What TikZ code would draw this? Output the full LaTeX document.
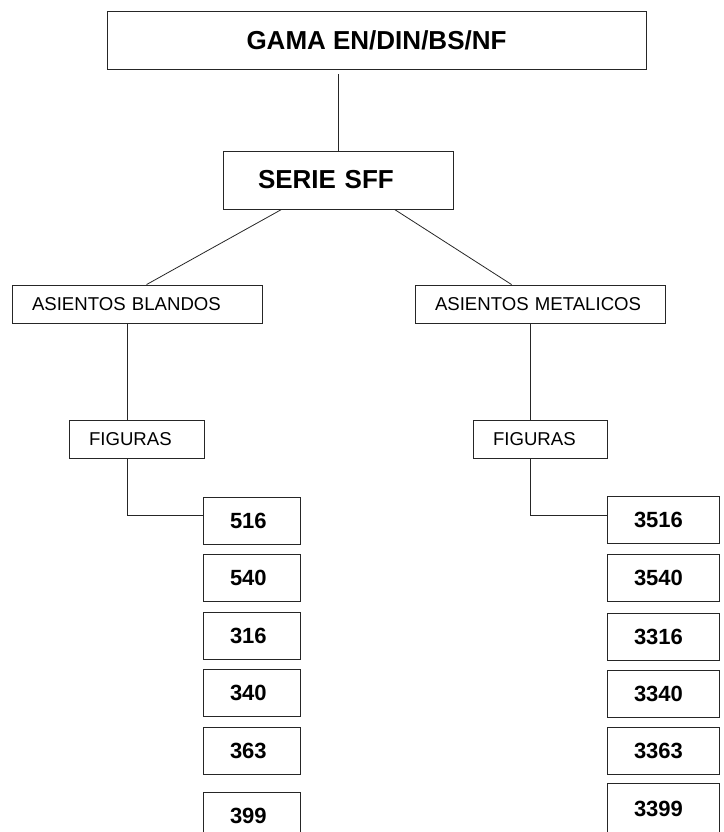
\documentclass[tikz,border=0pt]{standalone}
\usepackage{fontspec}
\setmainfont{Liberation Sans}
\usetikzlibrary{calc}
\tikzset{
  box/.style={draw=black!85, line width=0.9pt, rectangle, inner ysep=0pt, align=left},
  head/.style={box, font=\bfseries\fontsize{26}{28}\selectfont, minimum height=58pt},
  seat/.style={box, font=\fontsize{18.6}{20}\selectfont, minimum height=38pt, inner xsep=20pt},
  num/.style={box, font=\bfseries\fontsize{22}{24}\selectfont, inner xsep=27pt},
  link/.style={draw=black!85, line width=0.8pt}
}
\begin{document}
\begin{tikzpicture}[x=1pt,y=-1pt]
  \useasboundingbox (0,0) rectangle (723,832);
  \clip (0,0) rectangle (723,832);
  % TOP: range and series
  \node[head, minimum width=539pt, align=center] (gama) at (376.5,40) {GAMA EN/DIN/BS/NF};
  \node[head, inner xsep=35pt, text width=160pt] (serie) at (338,180) {SERIE SFF};
  \draw[link, shorten >=5pt] (serie.north) -- (serie.north |- gama.south);
  % LEFT: soft seats
  \node[seat, text width=210pt] (blandos) at (137,304) {ASIENTOS BLANDOS};
  \node[seat, text width=95pt] (figL) at (136.5,439) {FIGURAS};
  \coordinate (spineL) at (127,515);
  \foreach \n/\y/\h [count=\i] in {516/520.5/47,540/578/47,316/636/47,340/693/47,363/751/47,399/816/48}
    \node[num, text width=43pt, minimum height=\h pt] (l\i) at (251.5,\y) {\n};
  % RIGHT: metal seats
  \node[seat, text width=210pt] (metal) at (540,304) {ASIENTOS METALICOS};
  \node[seat, text width=94pt] (figR) at (540,439) {FIGURAS};
  \coordinate (spineR) at (530,515);
  \foreach \n/\y/\h [count=\i] in {3516/520/47,3540/578/47,3316/637/47,3340/694/47,3363/751/47,3399/809/52}
    \node[num, text width=58pt, minimum height=\h pt] (r\i) at (663,\y) {\n};
  % Connectors
  \draw[link] ($(serie.south west)+(59,0)$) -- ($(blandos.north west)+(135,0)$);
  \draw[link] ($(serie.south west)+(172,0)$) -- ($(metal.north west)+(97,0)$);
  \draw[link] (blandos.south -| spineL) -- (figL.north -| spineL);
  \draw[link] (figL.south -| spineL) |- (l1.west |- spineL);
  \draw[link] (metal.south -| spineR) -- (figR.north -| spineR);
  \draw[link] (figR.south -| spineR) |- (r1.west |- spineR);
\end{tikzpicture}
\end{document}
